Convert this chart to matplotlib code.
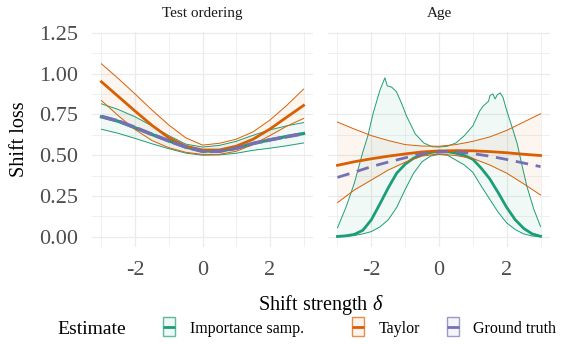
# shift loss vs shift strength, two panels (ggplot-ish look)

import numpy as np
import matplotlib
matplotlib.use('Agg')
import matplotlib.pyplot as plt
from matplotlib.patches import Rectangle
from matplotlib.lines import Line2D

plt.rcParams['font.family'] = ['Liberation Serif', 'DejaVu Serif']
plt.rcParams['mathtext.fontset'] = 'custom'
plt.rcParams['mathtext.rm'] = 'Liberation Serif'
plt.rcParams['mathtext.it'] = 'Liberation Serif:italic'
plt.rcParams['lines.solid_joinstyle'] = 'round'

# ---- data ----
delta = np.array([-3, -2.5, -2, -1.5, -1, -0.5, 0, 0.5, 1, 1.5, 2, 2.5, 3])

# Test ordering panel
test_taylor = [0.95, 0.86, 0.77, 0.683, 0.607, 0.555, 0.532, 0.532, 0.555, 0.598, 0.66, 0.733, 0.805]
test_taylor_hi = [1.06, 0.97, 0.875, 0.777, 0.685, 0.607, 0.562, 0.573, 0.598, 0.643, 0.715, 0.805, 0.905]
test_taylor_lo = [0.835, 0.742, 0.657, 0.59, 0.546, 0.518, 0.505, 0.505, 0.524, 0.565, 0.62, 0.678, 0.725]
test_is = [0.735, 0.708, 0.668, 0.627, 0.588, 0.55, 0.525, 0.525, 0.543, 0.572, 0.594, 0.615, 0.633]
test_is_hi = [0.815, 0.78, 0.735, 0.68, 0.62, 0.568, 0.55, 0.56, 0.585, 0.622, 0.655, 0.68, 0.70]
test_is_lo = [0.659, 0.634, 0.603, 0.57, 0.54, 0.513, 0.5, 0.502, 0.512, 0.53, 0.543, 0.558, 0.575]
test_truth = [0.738, 0.71, 0.67, 0.628, 0.588, 0.55, 0.524, 0.524, 0.542, 0.572, 0.594, 0.613, 0.632]

# Age panel
age_taylor = [0.438, 0.46, 0.478, 0.494, 0.508, 0.52, 0.526, 0.528, 0.527, 0.522, 0.515, 0.506, 0.498]
age_taylor_hi = [0.703, 0.66, 0.62, 0.59, 0.565, 0.556, 0.555, 0.565, 0.585, 0.612, 0.652, 0.703, 0.754]
age_taylor_lo = [0.209, 0.287, 0.348, 0.409, 0.457, 0.495, 0.508, 0.498, 0.48, 0.44, 0.39, 0.325, 0.256]
age_truth = [0.364, 0.396, 0.43, 0.458, 0.484, 0.508, 0.52, 0.52, 0.51, 0.494, 0.474, 0.452, 0.43]

delta_fine = np.array([-3, -2.75, -2.5, -2.25, -2, -1.75, -1.5, -1.25, -1, -0.75, -0.5, -0.25, 0,
                       0.25, 0.5, 0.75, 1, 1.25, 1.5, 1.75, 2, 2.25, 2.5, 2.75, 3])
age_is = [0.002, 0.006, 0.015, 0.04, 0.104, 0.2, 0.3, 0.39, 0.445, 0.482, 0.503, 0.516, 0.525,
          0.522, 0.512, 0.498, 0.475, 0.42, 0.355, 0.27, 0.18, 0.105, 0.052, 0.018, 0.003]
age_is_lo = [0.0, 0.002, 0.008, 0.018, 0.032, 0.06, 0.104, 0.18, 0.29, 0.39, 0.46, 0.495, 0.505,
             0.5, 0.47, 0.44, 0.395, 0.31, 0.23, 0.15, 0.085, 0.045, 0.018, 0.005, 0.0]

# upper IS band is bumpy, read on its own grid
delta_up = np.array([-3, -2.75, -2.5, -2.25, -2.1, -1.95, -1.75, -1.6, -1.53, -1.4, -1.26, -1.1,
                     -0.96, -0.7, -0.45, -0.2, 0, 0.25, 0.5, 0.75, 1.0, 1.2, 1.3, 1.46, 1.51,
                     1.59, 1.66, 1.72, 1.81, 1.89, 2.0, 2.16, 2.31, 2.45, 2.6, 2.8, 3.0])
age_is_hi = [0.055, 0.18, 0.33, 0.52, 0.62, 0.754, 0.896, 0.974, 0.925, 0.917, 0.89, 0.815,
             0.74, 0.63, 0.575, 0.552, 0.55, 0.555, 0.575, 0.62, 0.68, 0.77, 0.8, 0.83, 0.866,
             0.876, 0.845, 0.87, 0.882, 0.855, 0.774, 0.672, 0.571, 0.44, 0.307, 0.17, 0.063]
# lower edge on the upper band's grid, just so the ribbon can be filled
age_is_lo_up = np.interp(delta_up, delta_fine, age_is_lo)

panel_titles = ['Test ordering', 'Age']
legend_labels = ['Importance samp.', 'Taylor', 'Ground truth']

green, orange, purple = '#1B9E77', '#D95F02', '#7570B3'
grid_col = '#EBEBEB'
W, H = 565, 344


def fx(px):
    return px / W


def fy(py):
    return 1 - py / H


fig = plt.figure(figsize=(W / 100., H / 100.), dpi=100)

ax1 = fig.add_axes([fx(92), fy(247), fx(313) - fx(92), fy(32) - fy(247)])
ax2 = fig.add_axes([fx(328), fy(247), fx(550) - fx(328), fy(32) - fy(247)])

thin, thick = 0.7, 2.0

# panel 1
ax1.fill_between(delta, test_taylor_lo, test_taylor_hi, color=orange, alpha=0.06, lw=0)
ax1.fill_between(delta, test_is_lo, test_is_hi, color=green, alpha=0.06, lw=0)
ax1.plot(delta, test_is_hi, color=green, lw=thin)
ax1.plot(delta, test_is_lo, color=green, lw=thin)
ax1.plot(delta, test_is, color=green, lw=thick + 0.3)
ax1.plot(delta, test_taylor_hi, color=orange, lw=thin)
ax1.plot(delta, test_taylor_lo, color=orange, lw=thin)
ax1.plot(delta, test_taylor, color=orange, lw=thick)
ax1.plot(delta, test_truth, color=purple, lw=thick + 0.5, dashes=(4.5, 1.0))

# panel 2
ax2.fill_between(delta, age_taylor_lo, age_taylor_hi, color=orange, alpha=0.06, lw=0)
ax2.fill_between(delta_up, age_is_lo_up, age_is_hi, color=green, alpha=0.06, lw=0)
ax2.plot(delta_up, age_is_hi, color=green, lw=thin)
ax2.plot(delta_fine, age_is_lo, color=green, lw=thin)
ax2.plot(delta_fine, age_is, color=green, lw=thick)
ax2.plot(delta, age_taylor_hi, color=orange, lw=thin)
ax2.plot(delta, age_taylor_lo, color=orange, lw=thin)
ax2.plot(delta, age_taylor, color=orange, lw=thick)
ax2.plot(delta, age_truth, color=purple, lw=thick, dashes=(4.5, 2.8))

for ax, title in zip([ax1, ax2], panel_titles):
    ax.set_xlim(-3.28, 3.28)
    ax.set_ylim(-0.0625, 1.255)
    ax.set_xticks([-2, 0, 2])
    ax.set_xticks([-3, -1, 1, 3], minor=True)
    ax.set_yticks([0, 0.25, 0.5, 0.75, 1.0, 1.25])
    ax.set_yticks(np.arange(0.125, 1.2, 0.25), minor=True)
    ax.grid(True, which='major', color=grid_col, lw=0.9)
    ax.grid(True, which='minor', color=grid_col, lw=0.55)
    ax.set_axisbelow(True)
    for s in ax.spines.values():
        s.set_visible(False)
    ax.tick_params(which='both', length=0, labelsize=16, labelcolor='#4D4D4D', pad=10)
    ax.set_xticklabels(['-2', '0', '2'])
    ax.text(0.5, 1 + 19. / 215, title, transform=ax.transAxes, ha='center', va='center',
            fontsize=11, color='#1A1A1A')

ax1.set_yticklabels(['0.00', '0.25', '0.50', '0.75', '1.00', '1.25'])
ax2.tick_params(labelleft=False)

fig.text(fx(19), fy(139.5), 'Shift loss', rotation=90, ha='center', va='center', fontsize=14.5)
fig.text(fx(321), fy(305), 'Shift strength $\\delta$', ha='center', va='center', fontsize=14.5)

# legend at the bottom, drawn by hand to get the ggplot spacing
fig.text(fx(57), fy(330), 'Estimate', ha='left', va='center', fontsize=14)
key_left = [163, 352, 447]
text_left = [190, 379, 473]
for lab, col, kx, tx in zip(legend_labels, [green, orange, purple], key_left, text_left):
    fig.add_artist(Rectangle((fx(kx), fy(336)), fx(12), fy(317) - fy(336),
                             transform=fig.transFigure, facecolor=col, alpha=0.07, lw=0))
    fig.add_artist(Rectangle((fx(kx), fy(336)), fx(12), fy(317) - fy(336),
                             transform=fig.transFigure, facecolor='none', edgecolor=col,
                             lw=1.0, alpha=0.7))
    fig.add_artist(Line2D([fx(kx), fx(kx + 12)], [fy(326.5), fy(326.5)],
                          transform=fig.transFigure, color=col, lw=2.0,
                          solid_capstyle='butt'))
    fig.text(fx(tx), fy(329), lab, ha='left', va='center', fontsize=11.5)

plt.savefig('out.png', dpi=100)
